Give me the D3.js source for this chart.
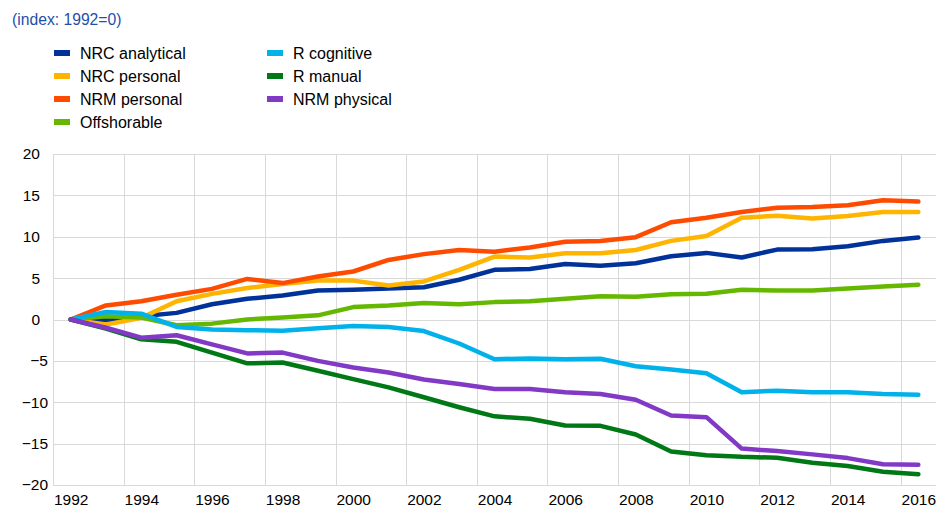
<!DOCTYPE html>
<html>
<head>
<meta charset="utf-8">
<script src="https://cdn.jsdelivr.net/npm/d3@7"></script>
<style>
	body { margin: 0; background: #fff; }
	svg { display: block; font-family: "Liberation Sans", Arial, sans-serif; }
	.grid line { stroke: #d9d9d9; stroke-width: 1; }
</style>
</head>
<body>
<div id="svg-container"></div>
<script>


// DATA
const years = d3.range(1992, 2017);
const yTicks = [20, 15, 10, 5, 0, -5, -10, -15, -20];
const xTicks = [1992, 1994, 1996, 1998, 2000, 2002, 2004, 2006, 2008, 2010, 2012, 2014, 2016];

const seriesNames = ["NRC analytical", "NRC personal", "NRM personal", "Offshorable", "R cognitive", "R manual", "NRM physical"];
const seriesColors = ["#003299", "#FFB400", "#FF4B00", "#65B800", "#00B1EA", "#007816", "#8139C6"];

const nrcAnalytical = [0, -0.1, 0.4, 0.8, 1.85, 2.5, 2.9, 3.5, 3.6, 3.75, 3.9, 4.8, 6.0, 6.1, 6.7, 6.5, 6.8, 7.65, 8.05, 7.5, 8.45, 8.5, 8.85, 9.5, 9.9];
const nrcPersonal = [0, -0.6, 0.2, 2.2, 3.1, 3.8, 4.3, 4.7, 4.7, 4.1, 4.6, 6.0, 7.6, 7.5, 8.0, 8.0, 8.4, 9.5, 10.1, 12.3, 12.55, 12.2, 12.5, 13.0, 13.0];
const nrmPersonal = [0, 1.7, 2.2, 3.0, 3.7, 4.9, 4.4, 5.2, 5.8, 7.2, 7.9, 8.4, 8.2, 8.7, 9.4, 9.5, 9.95, 11.75, 12.3, 13.0, 13.5, 13.6, 13.8, 14.4, 14.25];
const offshorable = [0, 0.4, 0.25, -0.7, -0.5, 0, 0.25, 0.5, 1.5, 1.7, 2.0, 1.85, 2.1, 2.2, 2.5, 2.8, 2.75, 3.05, 3.1, 3.6, 3.5, 3.5, 3.75, 4.0, 4.2];
const rCognitive = [0, 0.9, 0.7, -0.9, -1.2, -1.3, -1.35, -1.05, -0.8, -0.9, -1.4, -2.9, -4.8, -4.7, -4.8, -4.75, -5.65, -6.05, -6.5, -8.8, -8.6, -8.8, -8.8, -9.0, -9.1];
const rManual = [0, -1.1, -2.4, -2.7, -4.0, -5.3, -5.2, -6.2, -7.2, -8.2, -9.4, -10.6, -11.7, -12.0, -12.8, -12.85, -13.9, -15.95, -16.4, -16.6, -16.7, -17.3, -17.7, -18.4, -18.7];
const nrmPhysical = [0, -1.0, -2.2, -1.9, -3.0, -4.1, -4.0, -5.0, -5.8, -6.4, -7.25, -7.8, -8.4, -8.4, -8.8, -9.0, -9.7, -11.6, -11.8, -15.6, -15.9, -16.3, -16.75, -17.5, -17.55];

const seriesValues = [nrcAnalytical, nrcPersonal, nrmPersonal, offshorable, rCognitive, rManual, nrmPhysical];




// LINE CHART
function graphData() {
	// graph dimension
	const w = 936;
	const h = 512;
	const padTop = 154;
	const padBottom = 27;
	const padLeft = 53;
	const padRight = 0;

	// x-scale (categories, gridlines sit between them)
	const xScale = d3.scaleLinear()
		.domain([1991.5, 2016.5])
		.range([padLeft, w - padRight]);
	// y-scale
	const yScale = d3.scaleLinear()
		.domain([-20, 20])
		.range([h - padBottom, padTop]);

	// svg
	const svg = d3.select("#svg-container")
		.append("svg")
		.attr("width", w)
		.attr("height", h);

	// title
	svg.append("text")
		.text("(index: 1992=0)")
		.attr("x", 12)
		.attr("y", 25)
		.style("font-size", "15.7px")
		.style("fill", "#1f4fa8");

	// legend (two columns)
	const legend = svg.append("g").attr("class", "legend");
	const legendPos = [[54, 53], [54, 76], [54, 99], [54, 122], [267, 53], [267, 76], [267, 99]];
	seriesNames.forEach((name, i) => {
		const [lx, ly] = legendPos[i];
		legend.append("rect")
			.attr("x", lx)
			.attr("y", ly - 3)
			.attr("width", 16)
			.attr("height", 6)
			.style("fill", seriesColors[i]);
		legend.append("text")
			.text(name)
			.attr("x", lx + 26)
			.attr("y", ly + 6)
			.style("font-size", "16px")
			.style("fill", "#000");
	});

	// grid
	const grid = svg.append("g").attr("class", "grid");
	grid.selectAll(".hline")
		.data(yTicks)
		.enter()
		.append("line")
		.attr("class", "hline")
		.attr("x1", padLeft)
		.attr("x2", w - padRight)
		.attr("y1", d => Math.round(yScale(d)) + 0.5)
		.attr("y2", d => Math.round(yScale(d)) + 0.5);
	grid.selectAll(".vline")
		.data(xTicks.map(d => d - 0.5))
		.enter()
		.append("line")
		.attr("class", "vline")
		.attr("x1", d => Math.round(xScale(d)) + 0.5)
		.attr("x2", d => Math.round(xScale(d)) + 0.5)
		.attr("y1", padTop)
		.attr("y2", h - padBottom);

	// y-axis labels (negatives sit a little further right, as in the source)
	const yAxis = d3.axisLeft(yScale)
		.tickValues(yTicks)
		.tickSize(0)
		.tickPadding(13);
	const yG = svg.append("g")
		.attr("transform", `translate(${padLeft}, 0)`)
		.call(yAxis);
	yG.select(".domain").remove();
	yG.selectAll("text")
		.style("font-family", "Liberation Sans, Arial, sans-serif")
		.style("font-size", "15.5px")
		.attr("fill", "#000")
		.attr("dx", d => d < 0 ? 8 : 0);

	// x-axis labels
	const xAxis = d3.axisBottom(xScale)
		.tickValues(xTicks)
		.tickFormat(d => d.toString())
		.tickSize(0)
		.tickPadding(9);
	const xG = svg.append("g")
		.attr("transform", `translate(0, ${h - padBottom})`)
		.call(xAxis);
	xG.select(".domain").remove();
	xG.selectAll("text")
		.style("font-family", "Liberation Sans, Arial, sans-serif")
		.style("font-size", "15.5px")
		.attr("fill", "#000");

	// lines
	const line = d3.line()
		.x((d, i) => xScale(years[i]))
		.y(d => yScale(d));
	svg.append("g")
		.selectAll("path")
		.data(seriesValues)
		.enter()
		.append("path")
		.attr("d", d => line(d))
		.style("fill", "none")
		.style("stroke", (d, i) => seriesColors[i])
		.style("stroke-width", 4.5)
		.style("stroke-linejoin", "round")
		.style("stroke-linecap", "round");
}

document.addEventListener('DOMContentLoaded', () => {
	graphData();
});
</script>
</body>
</html>
